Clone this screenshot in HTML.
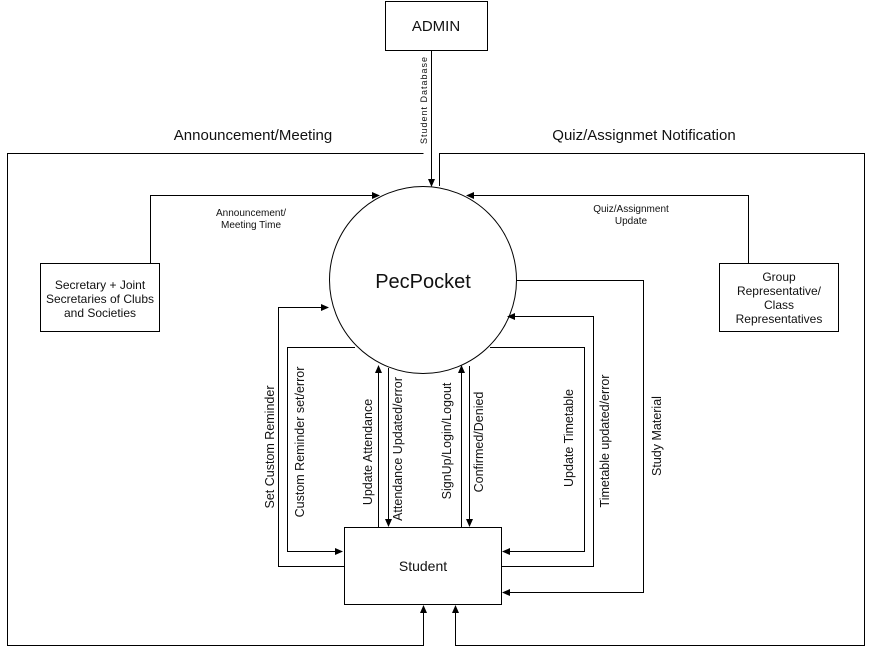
<!DOCTYPE html>
<html><head><style>body{margin:0;background:#fff}svg{display:block}text{font-family:"Liberation Sans",sans-serif;fill:#111}</style></head><body>
<svg width="873" height="654" viewBox="0 0 873 654" xmlns="http://www.w3.org/2000/svg">
<defs><marker id="a" markerWidth="8" markerHeight="8" refX="7" refY="4" orient="auto" markerUnits="userSpaceOnUse"><path d="M0,0.5 L8,4 L0,7.5 Z" fill="#000"/></marker></defs>
<g fill="none" stroke="#000" stroke-width="1">
<rect x="385.5" y="1.5" width="102" height="49" fill="#fff"/>
<rect x="40.5" y="263.5" width="119" height="68"/>
<rect x="719.5" y="263.5" width="119" height="68"/>
<rect x="344.5" y="527.5" width="157" height="77"/>
<circle cx="423" cy="280" r="93.5"/>
<path d="M423.5,153.5 H7.5 V645.5 H423.5 V606" marker-end="url(#a)"/>
<path d="M439.5,186 V153.5 H864.5 V645.5 H455.5 V606" marker-end="url(#a)"/>
<path d="M431.5,50 V186" marker-end="url(#a)"/>
<path d="M150.5,263 V195.5 H379" marker-end="url(#a)"/>
<path d="M748.5,263 V195.5 H467" marker-end="url(#a)"/>
<path d="M344,566.5 H278.5 V307.5 H328" marker-end="url(#a)"/>
<path d="M355,347.5 H287.5 V551.5 H342" marker-end="url(#a)"/>
<path d="M378.5,527 V366" marker-end="url(#a)"/>
<path d="M388.5,368 V526" marker-end="url(#a)"/>
<path d="M461.5,527 V366" marker-end="url(#a)"/>
<path d="M469.5,366 V526" marker-end="url(#a)"/>
<path d="M490,347.5 H584.5 V551.5 H503" marker-end="url(#a)"/>
<path d="M502,566.5 H593.5 V316.5 H508" marker-end="url(#a)"/>
<path d="M516,280.5 H643.5 V592.5 H503" marker-end="url(#a)"/>
</g>
<text x="436" y="31" font-size="15" text-anchor="middle">ADMIN</text>
<text x="423" y="288" font-size="20" text-anchor="middle">PecPocket</text>
<text x="423" y="571" font-size="14" text-anchor="middle">Student</text>
<text font-size="12" text-anchor="middle"><tspan x="100" y="289">Secretary + Joint</tspan><tspan x="100" y="303">Secretaries of Clubs</tspan><tspan x="100" y="317">and Societies</tspan></text>
<text font-size="12" text-anchor="middle"><tspan x="779" y="281">Group</tspan><tspan x="779" y="295">Representative/</tspan><tspan x="779" y="309">Class</tspan><tspan x="779" y="323">Representatives</tspan></text>
<text x="253" y="140" font-size="15" text-anchor="middle">Announcement/Meeting</text>
<text x="644" y="140" font-size="15" text-anchor="middle">Quiz/Assignmet Notification</text>
<text font-size="10" text-anchor="middle"><tspan x="251" y="216">Announcement/</tspan><tspan x="251" y="228">Meeting Time</tspan></text>
<text font-size="10" text-anchor="middle"><tspan x="631" y="212">Quiz/Assignment</tspan><tspan x="631" y="224">Update</tspan></text>
<g font-size="12.5" text-anchor="middle">
<text transform="translate(274,447) rotate(-90)">Set Custom Reminder</text>
<text transform="translate(304,442) rotate(-90)">Custom Reminder set/error</text>
<text transform="translate(372,452) rotate(-90)">Update Attendance</text>
<text transform="translate(402,449) rotate(-90)">Attendance Updated/error</text>
<text transform="translate(451,441) rotate(-90)">SignUp/Login/Logout</text>
<text transform="translate(483,442) rotate(-90)">Confirmed/Denied</text>
<text transform="translate(573,438) rotate(-90)">Update Timetable</text>
<text transform="translate(609,441) rotate(-90)">Timetable updated/error</text>
<text transform="translate(661,436) rotate(-90)">Study Material</text>
<text transform="translate(427,100) rotate(-90)" font-size="9" letter-spacing="1">Student Database</text>
</g>
</svg>
</body></html>
